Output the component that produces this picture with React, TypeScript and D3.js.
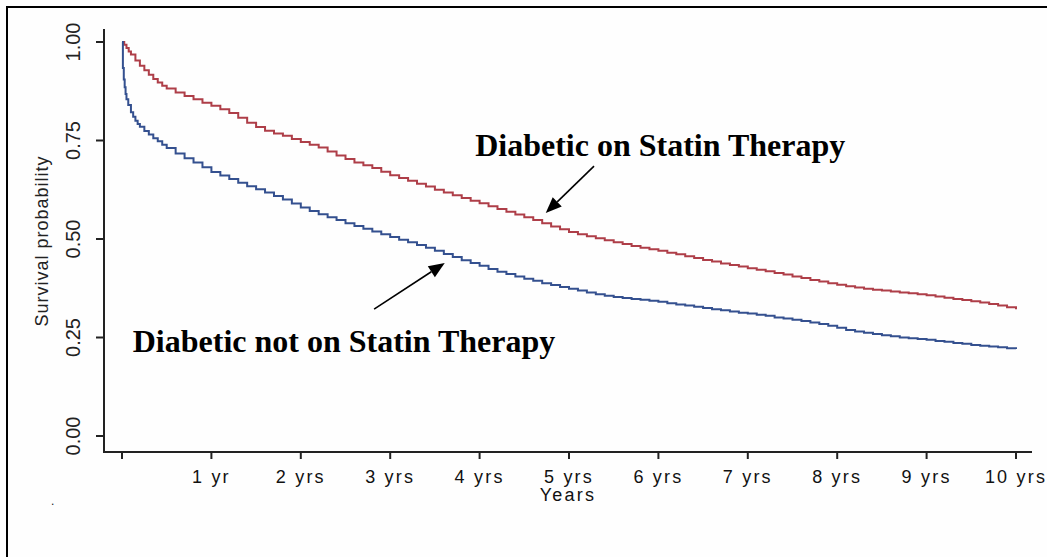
import React from "react";
import * as d3 from "d3";

// Kaplan-Meier survival estimates: [time in years, survival probability]
const statinCurve: [number, number][] = [
  [0, 1.0], [0.025, 0.993], [0.05, 0.985], [0.075, 0.976], [0.1, 0.968], [0.15, 0.953], [0.2, 0.94], [0.25, 0.928],
  [0.3, 0.917], [0.35, 0.906], [0.4, 0.897], [0.45, 0.889], [0.5, 0.882], [0.6, 0.872], [0.7, 0.863], [0.8, 0.855],
  [0.9, 0.846], [1.0, 0.838], [1.1, 0.829], [1.2, 0.82], [1.3, 0.808], [1.4, 0.795], [1.5, 0.784], [1.6, 0.775],
  [1.7, 0.768], [1.8, 0.762], [1.9, 0.754], [2.0, 0.746], [2.1, 0.739], [2.2, 0.732], [2.3, 0.722], [2.4, 0.712],
  [2.5, 0.703], [2.6, 0.694], [2.7, 0.687], [2.8, 0.68], [2.9, 0.671], [3.0, 0.662], [3.1, 0.655], [3.2, 0.648],
  [3.3, 0.64], [3.4, 0.633], [3.5, 0.625], [3.6, 0.618], [3.7, 0.611], [3.8, 0.604], [3.9, 0.597], [4.0, 0.591],
  [4.1, 0.583], [4.2, 0.576], [4.3, 0.569], [4.4, 0.562], [4.5, 0.555], [4.6, 0.548], [4.7, 0.54], [4.8, 0.532],
  [4.9, 0.525], [5.0, 0.518], [5.1, 0.512], [5.2, 0.507], [5.3, 0.502], [5.4, 0.497], [5.5, 0.492], [5.6, 0.487],
  [5.7, 0.482], [5.8, 0.478], [5.9, 0.474], [6.0, 0.47], [6.1, 0.465], [6.2, 0.461], [6.3, 0.456], [6.4, 0.452],
  [6.5, 0.447], [6.6, 0.443], [6.7, 0.438], [6.8, 0.434], [6.9, 0.43], [7.0, 0.426], [7.1, 0.422], [7.2, 0.418],
  [7.3, 0.414], [7.4, 0.41], [7.5, 0.405], [7.6, 0.401], [7.7, 0.396], [7.8, 0.392], [7.9, 0.388], [8.0, 0.384],
  [8.1, 0.38], [8.2, 0.377], [8.3, 0.374], [8.4, 0.371], [8.5, 0.369], [8.6, 0.367], [8.7, 0.364], [8.8, 0.362],
  [8.9, 0.36], [9.0, 0.357], [9.1, 0.354], [9.2, 0.351], [9.3, 0.348], [9.4, 0.345], [9.5, 0.342], [9.6, 0.339],
  [9.7, 0.335], [9.8, 0.331], [9.9, 0.327], [10.0, 0.322],
];

const noStatinCurve: [number, number][] = [
  [0, 1.0], [0.01, 0.934], [0.02, 0.905], [0.03, 0.885], [0.04, 0.868], [0.05, 0.855], [0.07, 0.84], [0.1, 0.822],
  [0.125, 0.81], [0.15, 0.8], [0.175, 0.792], [0.2, 0.785], [0.25, 0.774], [0.3, 0.765], [0.35, 0.756], [0.4, 0.748],
  [0.45, 0.739], [0.5, 0.731], [0.6, 0.717], [0.7, 0.705], [0.8, 0.694], [0.9, 0.682], [1.0, 0.67], [1.1, 0.661],
  [1.2, 0.652], [1.3, 0.643], [1.4, 0.634], [1.5, 0.626], [1.6, 0.618], [1.7, 0.609], [1.8, 0.6], [1.9, 0.59],
  [2.0, 0.58], [2.1, 0.571], [2.2, 0.563], [2.3, 0.555], [2.4, 0.548], [2.5, 0.54], [2.6, 0.533], [2.7, 0.526],
  [2.8, 0.519], [2.9, 0.512], [3.0, 0.505], [3.1, 0.498], [3.2, 0.492], [3.3, 0.485], [3.4, 0.478], [3.5, 0.47],
  [3.6, 0.462], [3.7, 0.454], [3.8, 0.446], [3.9, 0.439], [4.0, 0.432], [4.1, 0.424], [4.2, 0.417], [4.3, 0.411],
  [4.4, 0.405], [4.5, 0.399], [4.6, 0.394], [4.7, 0.388], [4.8, 0.383], [4.9, 0.378], [5.0, 0.374], [5.1, 0.369],
  [5.2, 0.364], [5.3, 0.36], [5.4, 0.356], [5.5, 0.353], [5.6, 0.35], [5.7, 0.348], [5.8, 0.346], [5.9, 0.343],
  [6.0, 0.341], [6.1, 0.337], [6.2, 0.334], [6.3, 0.331], [6.4, 0.328], [6.5, 0.325], [6.6, 0.322], [6.7, 0.319],
  [6.8, 0.316], [6.9, 0.313], [7.0, 0.311], [7.1, 0.308], [7.2, 0.305], [7.3, 0.301], [7.4, 0.298], [7.5, 0.295],
  [7.6, 0.292], [7.7, 0.288], [7.8, 0.284], [7.9, 0.28], [8.0, 0.275], [8.1, 0.269], [8.2, 0.265], [8.3, 0.262],
  [8.4, 0.259], [8.5, 0.256], [8.6, 0.253], [8.7, 0.25], [8.8, 0.248], [8.9, 0.246], [9.0, 0.244], [9.1, 0.241],
  [9.2, 0.239], [9.3, 0.236], [9.4, 0.234], [9.5, 0.231], [9.6, 0.229], [9.7, 0.227], [9.8, 0.225], [9.9, 0.223],
  [10.0, 0.221],
];

const yTickValues = [0, 0.25, 0.5, 0.75, 1.0];
const yTickLabels = ["0.00", "0.25", "0.50", "0.75", "1.00"];
const xTickValues = [0, 1, 2, 3, 4, 5, 6, 7, 8, 9, 10];
const xTickLabels = ["", "1 yr", "2 yrs", "3 yrs", "4 yrs", "5 yrs", "6 yrs", "7 yrs", "8 yrs", "9 yrs", "10 yrs"];

const statinLabel = "Diabetic on Statin Therapy";
const noStatinLabel = "Diabetic not on Statin Therapy";

const W = 1047;
const H = 557;
const RED = "#ae3e48";
const BLUE = "#34508f";
const AXIS = "#222";
const SANS = "'Liberation Sans', Arial, sans-serif";
const SERIF = "'Liberation Serif', 'Times New Roman', serif";

function Arrow({ x1, y1, x2, y2 }: { x1: number; y1: number; x2: number; y2: number }) {
  const ang = Math.atan2(y2 - y1, x2 - x1);
  const len = 16;
  const half = 6.5;
  const bx = x2 - len * Math.cos(ang);
  const by = y2 - len * Math.sin(ang);
  const px = -Math.sin(ang) * half;
  const py = Math.cos(ang) * half;
  return (
    <g>
      <line x1={x1} y1={y1} x2={bx} y2={by} stroke="#000" strokeWidth={1.6} />
      <polygon points={`${x2},${y2} ${bx + px},${by + py} ${bx - px},${by - py}`} fill="#000" />
    </g>
  );
}

export default function App() {
  const x = d3.scaleLinear().domain([0, 10]).range([122, 1016]);
  const y = d3.scaleLinear().domain([0, 1]).range([436, 42]);

  const line = d3
    .line<[number, number]>()
    .x((d) => x(d[0]))
    .y((d) => y(d[1]))
    .curve(d3.curveStepAfter);

  const axisX = 104;
  const axisY = 452;

  return (
    <div style={{ position: "fixed", left: 0, top: 0, width: W, height: H, background: "#fff" }}>
      <svg width={W} height={H} viewBox={`0 0 ${W} ${H}`} style={{ display: "block" }}>
        <rect x={0} y={0} width={W} height={H} fill="#fefefe" />
        {/* outer frame */}
        <rect x={7} y={7} width={1200} height={700} fill="none" stroke="#000" strokeWidth={2} />

        {/* axes */}
        <line x1={axisX} y1={29} x2={axisX} y2={axisY + 1} stroke={AXIS} strokeWidth={2} />
        <line x1={axisX - 1} y1={axisY} x2={1032} y2={axisY} stroke={AXIS} strokeWidth={2} />

        {yTickValues.map((v, i) => (
          <g key={`yt${i}`}>
            <line x1={axisX - 8} y1={y(v)} x2={axisX} y2={y(v)} stroke={AXIS} strokeWidth={2} />
            <text
              transform={`translate(73,${y(v)}) rotate(-90)`}
              textAnchor="middle"
              dominantBaseline="central"
              fontFamily={SANS}
              fontSize={20}
              fill="#222"
            >
              {yTickLabels[i]}
            </text>
          </g>
        ))}

        {xTickValues.map((v, i) => (
          <g key={`xt${i}`}>
            <line x1={x(v)} y1={axisY} x2={x(v)} y2={axisY + 7} stroke={AXIS} strokeWidth={2} />
            <text
              x={x(v)}
              y={477}
              textAnchor="middle"
              dominantBaseline="central"
              fontFamily={SANS}
              fontSize={18}
              letterSpacing={2.2}
              fill="#111"
            >
              {xTickLabels[i]}
            </text>
          </g>
        ))}

        <text
          x={568}
          y={495}
          textAnchor="middle"
          dominantBaseline="central"
          fontFamily={SANS}
          fontSize={18}
          letterSpacing={2.2}
          fill="#111"
        >
          Years
        </text>
        <text
          transform={`translate(42,241) rotate(-90)`}
          textAnchor="middle"
          dominantBaseline="central"
          fontFamily={SANS}
          fontSize={18}
          letterSpacing={1}
          fill="#222"
        >
          Survival probability
        </text>
        <text x={51} y={505} fontFamily={SANS} fontSize={12} fill="#222">.</text>

        {/* survival curves */}
        <path d={line(statinCurve) ?? ""} fill="none" stroke={RED} strokeWidth={2} />
        <path d={line(noStatinCurve) ?? ""} fill="none" stroke={BLUE} strokeWidth={2} />

        {/* annotations */}
        <text x={x(3.95)} y={y(0.711)} fontFamily={SERIF} fontWeight="bold" fontSize={32} fill="#000">
          {statinLabel}
        </text>
        <Arrow x1={x(5.28)} y1={y(0.685)} x2={x(4.74)} y2={y(0.566)} />

        <text x={x(0.12)} y={y(0.213)} fontFamily={SERIF} fontWeight="bold" fontSize={32} fill="#000">
          {noStatinLabel}
        </text>
        <Arrow x1={x(2.82)} y1={y(0.322)} x2={x(3.61)} y2={y(0.439)} />
      </svg>
    </div>
  );
}
